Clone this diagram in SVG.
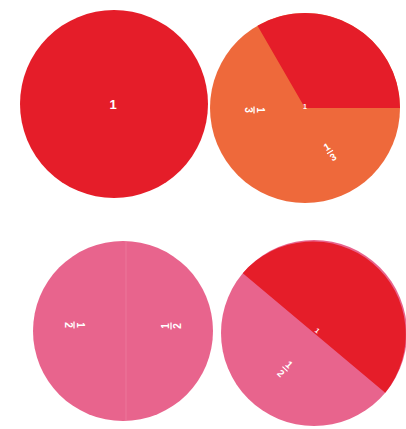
<svg xmlns="http://www.w3.org/2000/svg" width="406" height="429" viewBox="0 0 406 429">
<style>
.lbl{font-family:"Liberation Sans",Arial,sans-serif;font-weight:bold;fill:#ffffff;text-anchor:middle}
.f{font-size:10px}
.s{font-size:7px}
.big{font-size:13px}
.bar{stroke:#ffffff;stroke-width:1.3}
.red{fill:#e51d29}
.orange{fill:#ee693b}
.pink{fill:#e8648d}
</style>
<defs>
<g id="frac3"><text class="lbl f" x="0" y="-2.5">1</text><line class="bar" x1="-3.5" y1="0" x2="3.5" y2="0"/><text class="lbl f" x="0" y="9.5">3</text></g>
<g id="frac2"><text class="lbl f" x="0" y="-2.5">1</text><line class="bar" x1="-3.5" y1="0" x2="3.5" y2="0"/><text class="lbl f" x="0" y="9.5">2</text></g>
</defs>
<rect width="406" height="429" fill="#ffffff"/>
<g id="whole">
<circle class="red" cx="114" cy="104" r="94"/>
<text class="lbl big" x="113" y="109">1</text>
</g>
<g id="thirds">
<circle class="orange" cx="305" cy="108" r="95"/>
<path class="red" d="M305 108 L257.5 25.7 A95 95 0 0 1 400 108 Z"/>
<text class="lbl s" x="305" y="109">1</text>
<use href="#frac3" transform="translate(254 110) rotate(90)"/>
<use href="#frac3" transform="translate(330 152) rotate(-31)"/>
</g>
<g id="halves">
<circle class="pink" cx="123" cy="331" r="90"/>
<line x1="126" y1="242" x2="126" y2="420" stroke="#f188a8" stroke-width="1" opacity="0.5"/>
<use href="#frac2" transform="translate(74 325) rotate(90)"/>
<use href="#frac2" transform="translate(171 326) rotate(-90)"/>
</g>
<g id="half-whole">
<circle class="pink" cx="314" cy="333" r="93"/>
<path class="red" d="M242.8 273.2 A93 93 0 0 1 385.2 392.8 Z"/>
<text class="lbl s" x="317" y="333" transform="rotate(40 317 331)">1</text>
<use href="#frac2" transform="translate(285 369) rotate(43)"/>
</g>
</svg>
